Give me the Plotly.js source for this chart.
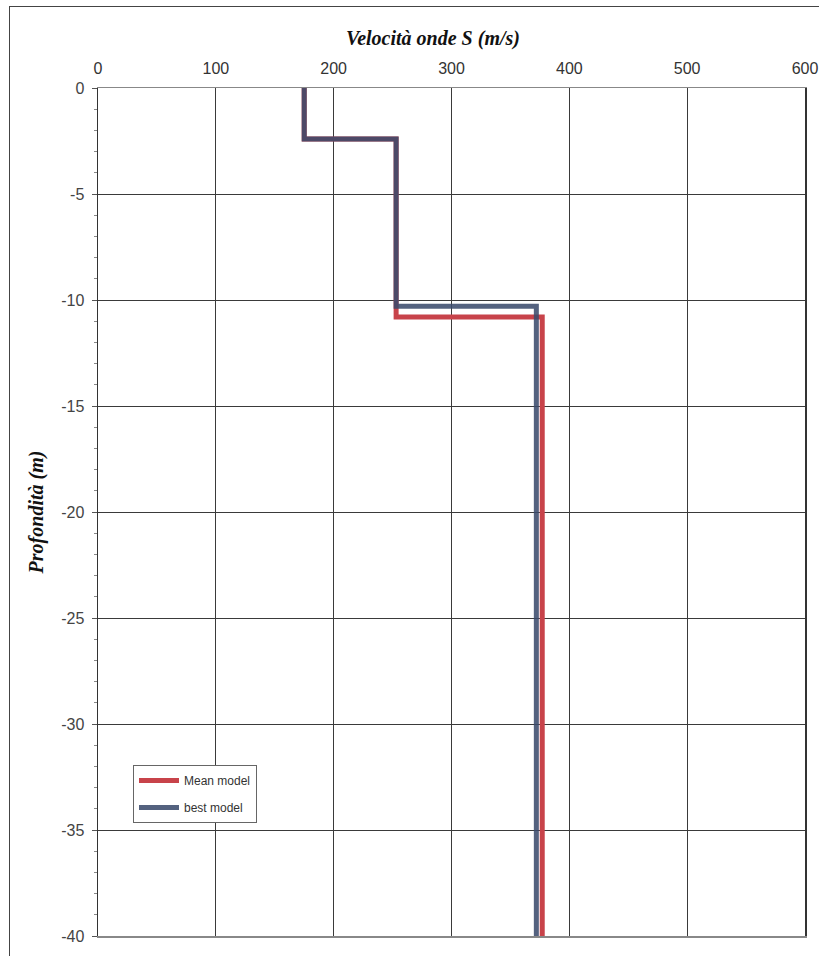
<!DOCTYPE html>
<html>
<head>
<meta charset="utf-8">
<script src="https://cdn.plot.ly/plotly-3.0.1.min.js"></script>
<style>
  html, body { margin: 0; padding: 0; background: #fff; }
  #wrap { position: relative; width: 819px; height: 956px; overflow: hidden; }
  #chart { position: absolute; left: 0; top: 0; width: 819px; height: 956px; }
  #frame { position: absolute; left: 9px; top: 6px; width: 1000px; height: 1000px;
           border: 1.5px solid #444; pointer-events: none; }
</style>
</head>
<body>
<div id="wrap">
  <div id="chart"></div>
  <div id="frame"></div>
</div>
<script>
// Layer velocities (m/s) and layer bottom depths (m)
const meanVelocity = [175, 253, 377];
const meanBottom   = [2.4, 10.8, 40];
const bestVelocity = [175, 253, 372];
const bestBottom   = [2.4, 10.3, 40];
const seriesNames  = ["Mean model", "best model"];
const xTickVals    = [0, 100, 200, 300, 400, 500, 600];
const yTickVals    = [0, -5, -10, -15, -20, -25, -30, -35, -40];

function profile(vel, bottom) {
  const x = [], y = [];
  let top = 0;
  for (let i = 0; i < vel.length; i++) {
    x.push(vel[i], vel[i]);
    y.push(-top, -bottom[i]);
    top = bottom[i];
  }
  return {x, y};
}

const pm = profile(meanVelocity, meanBottom);
const pb = profile(bestVelocity, bestBottom);

const traces = [
  {x: pm.x, y: pm.y, name: seriesNames[0], mode: 'lines', legendgroup: 'a',
   line: {color: '#c8434a', width: 5}},
  {x: pb.x, y: pb.y, name: seriesNames[1], mode: 'lines', opacity: 0.87, legendgroup: 'b',
   line: {color: '#3b4b6c', width: 5}}
];

const layout = {
  width: 819, height: 956,
  margin: {l: 98, r: 14, t: 88, b: 20},
  paper_bgcolor: 'rgba(0,0,0,0)',
  plot_bgcolor: '#fff',
  showlegend: true,
  title: {text: '<b><i>Velocità onde S (m/s)</i></b>',
          font: {family: 'Liberation Serif, Times New Roman, serif', size: 20, color: '#111'},
          x: 433/819, xanchor: 'center', y: 1 - 38/956, yanchor: 'middle'},
  xaxis: {
    side: 'top', range: [0, 600], tickvals: xTickVals, ticktext: xTickVals.map(String),
    showgrid: true, gridcolor: '#3a3a3a', gridwidth: 1,
    showline: true, linecolor: '#888', linewidth: 1.5, mirror: true,
    ticks: '', zeroline: false, ticklabelstandoff: 6,
    tickfont: {family: 'Liberation Sans, Arial, sans-serif', size: 16, color: '#333'}
  },
  yaxis: {
    range: [-40, 0], tickvals: yTickVals, ticktext: yTickVals.map(String),
    showgrid: true, gridcolor: '#3a3a3a', gridwidth: 1,
    showline: true, linecolor: '#333', linewidth: 1.5, mirror: true,
    ticks: 'outside', ticklen: 5, tickcolor: '#555', zeroline: false,
    ticklabelstandoff: 4,
    minor: {dtick: 1, ticks: 'outside', ticklen: 3, tickcolor: '#888', showgrid: false},
    tickfont: {family: 'Liberation Sans, Arial, sans-serif', size: 16, color: '#444'},
    title: {text: '<b><i>Profondità (m)</i></b>', standoff: 12,
            font: {family: 'Liberation Serif, Times New Roman, serif', size: 20, color: '#111'}}
  },
  legend: {
    x: (133 - 98) / 707, y: (936 - 765) / 848, xanchor: 'left', yanchor: 'top',
    bgcolor: '#fff', bordercolor: '#666', borderwidth: 1,
    font: {family: 'Liberation Sans, Arial, sans-serif', size: 12, color: '#333'},
    itemwidth: 40, tracegroupgap: 8
  }
};

Plotly.newPlot('chart', traces, layout, {displayModeBar: false, staticPlot: true});
</script>
</body>
</html>
